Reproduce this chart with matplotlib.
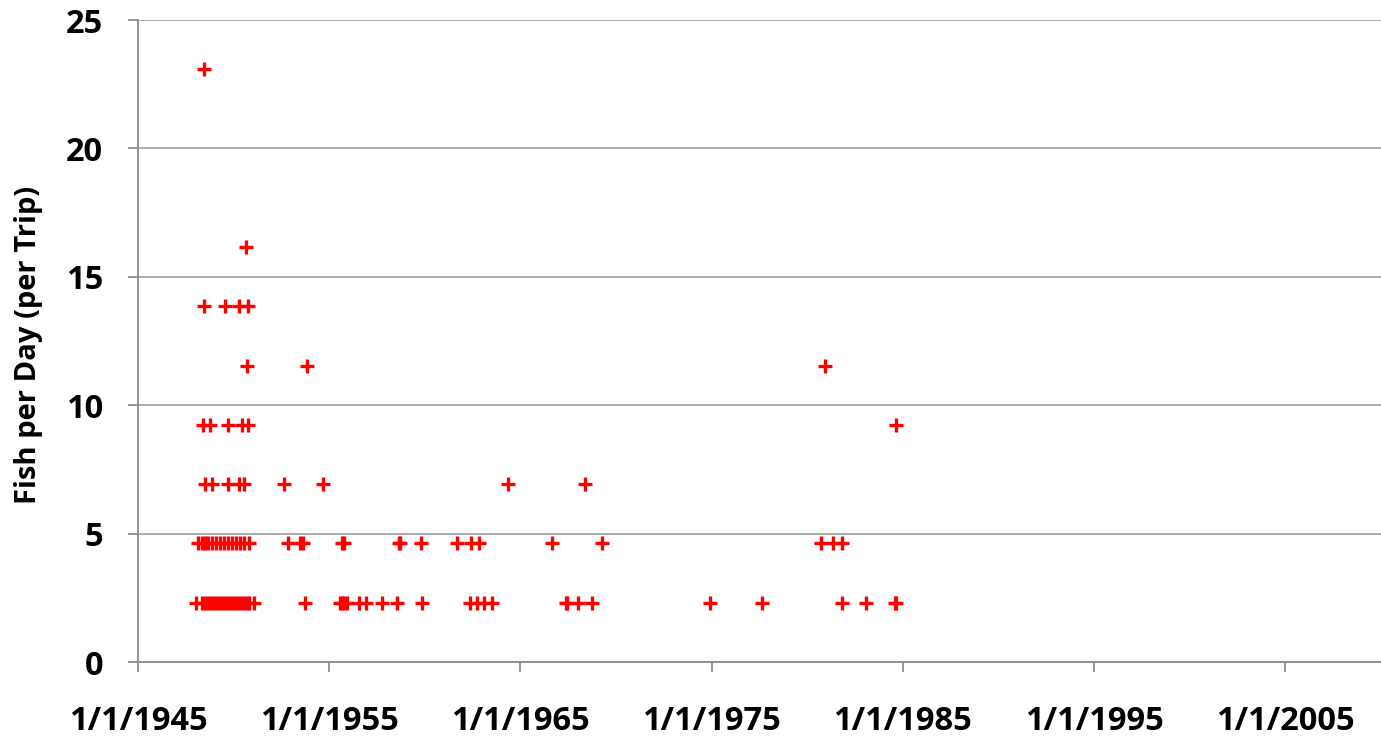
import matplotlib
matplotlib.use('Agg')
import matplotlib.pyplot as plt
from datetime import datetime, timedelta

# trip dates as decimal years, grouped by catch-rate level
lvl_2 = [1948.03, 1948.34, 1948.50, 1948.66, 1948.81, 1948.97, 1949.13, 1949.28, 1949.44,
         1949.60, 1949.75, 1949.91, 1950.07, 1950.22, 1950.38, 1950.54, 1950.69, 1950.80,
         1951.06, 1953.72, 1955.55, 1955.65, 1955.76, 1955.91, 1956.54, 1956.91, 1957.74,
         1958.52, 1959.83, 1962.34, 1962.75, 1963.07, 1963.49, 1967.40, 1967.45, 1968.03,
         1968.76, 1974.92, 1977.64, 1981.81, 1983.07, 1984.58, 1984.63]
lvl_5 = [1948.13, 1948.34, 1948.50, 1948.66, 1948.86, 1949.07, 1949.28, 1949.49, 1949.70,
         1949.91, 1950.12, 1950.33, 1950.54, 1950.80, 1952.83, 1953.46, 1953.62, 1955.65,
         1955.76, 1958.63, 1958.68, 1959.78, 1961.66, 1962.39, 1962.81, 1966.67, 1969.28,
         1980.72, 1981.34, 1981.81]
lvl_7 = [1948.50, 1948.86, 1949.70, 1950.27, 1950.54, 1952.62, 1954.66, 1964.37, 1968.39]
lvl_9 = [1948.39, 1948.76, 1949.70, 1950.43, 1950.74, 1984.63]
lvl_12 = [1950.69, 1953.83, 1980.93]
lvl_14 = [1948.45, 1949.54, 1950.27, 1950.74]
lvl_16 = [1950.64]
lvl_23 = [1948.45]

levels = [2.31, 4.62, 6.92, 9.23, 11.54, 13.85, 16.15, 23.08]
groups = [lvl_2, lvl_5, lvl_7, lvl_9, lvl_12, lvl_14, lvl_16, lvl_23]

x_ticks = [1945, 1955, 1965, 1975, 1985, 1995, 2005]


def to_date(y):
    yr = int(y)
    return datetime(yr, 1, 1) + timedelta(days=(y - yr) * 365.25)


dates, fish = [], []
for lv, g in zip(levels, groups):
    for y in g:
        dates.append(to_date(y))
        fish.append(lv)

plt.rcParams['font.family'] = 'Open Sans'
fig = plt.figure(figsize=(13.81, 7.36), dpi=100)
ax = fig.add_axes([0.0999, 0.1005, 0.9001, 0.8723])

ax.plot(dates, fish, linestyle='None', marker='+', color='#FF0000',
        markersize=10.5, markeredgewidth=2.4, zorder=3)

ax.set_xlim(datetime(1945, 1, 1), datetime(2010, 1, 1))
ax.set_ylim(0, 25)
ax.set_xticks([datetime(y, 1, 1) for y in x_ticks])
ax.set_xticklabels([f'1/1/{y}' for y in x_ticks])
ax.set_yticks([0, 5, 10, 15, 20, 25])

ax.grid(axis='y', color='#A6A6A6', linewidth=1.3)
ax.set_axisbelow(True)
for s in ['top', 'right']:
    ax.spines[s].set_visible(False)
for s in ['left', 'bottom']:
    ax.spines[s].set_color('#8C8C8C')
    ax.spines[s].set_linewidth(1.3)

ax.tick_params(axis='x', length=7, width=1.3, color='#8C8C8C', pad=24,
               labelsize=23.5)
ax.tick_params(axis='y', length=7, width=1.3, color='#8C8C8C', pad=18,
               labelsize=23.5)
for lab in ax.get_xticklabels() + ax.get_yticklabels():
    lab.set_fontweight('bold')

ax.set_ylabel('Fish per Day (per Trip)', fontsize=21, fontweight='bold')
ax.yaxis.set_label_coords(-0.076, 0.494)

fig.savefig('out.png', dpi=100)
